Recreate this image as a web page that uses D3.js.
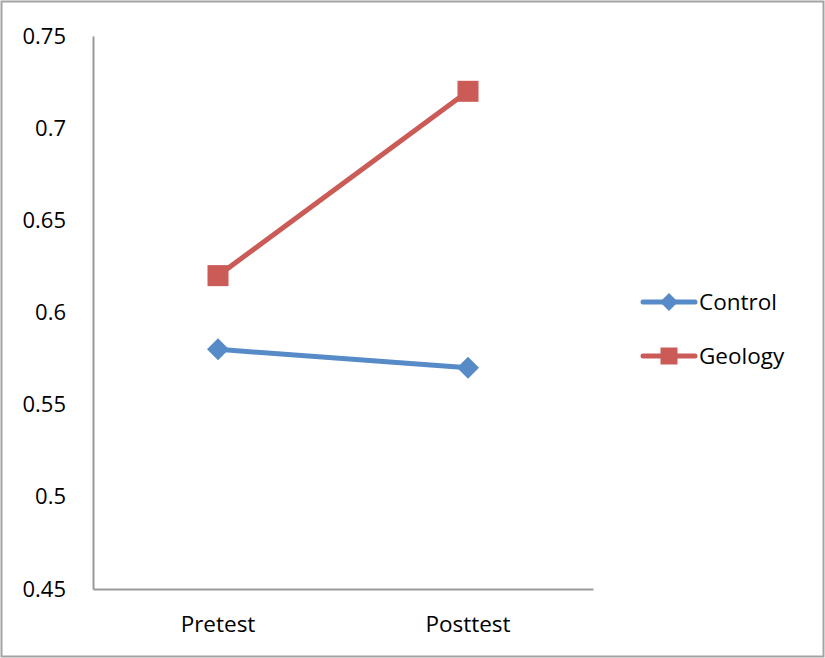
<!DOCTYPE html>
<html>
<head>
<meta charset="utf-8">
<script src="https://cdn.jsdelivr.net/npm/d3@7"></script>
<style>
  html, body { margin: 0; padding: 0; background: #fff; }
  svg { display: block; }
  text { font-family: "Open Sans", "Liberation Sans", sans-serif; fill: #000; }
</style>
</head>
<body>
<svg id="chart" width="825" height="658"></svg>
<script>
// Pretest / posttest mean scores for two groups
const categories = ["Pretest", "Posttest"];
const controlValues = [0.58, 0.57];
const geologyValues = [0.62, 0.72];
const yTicks = [0.45, 0.5, 0.55, 0.6, 0.65, 0.7, 0.75];
const seriesNames = ["Control", "Geology"];

const series = [
  { name: seriesNames[0], values: controlValues, color: "#568BC8", marker: "diamond" },
  { name: seriesNames[1], values: geologyValues, color: "#CA5B56", marker: "square" }
];

const svg = d3.select("#chart");

// outer frame
svg.append("rect")
  .attr("x", 1.5).attr("y", 1.5)
  .attr("width", 822).attr("height", 655)
  .attr("fill", "none").attr("stroke", "#a3a3a3").attr("stroke-width", 2);

const plot = { left: 93, right: 593, top: 36, bottom: 589 };

const x = d3.scaleBand().domain(categories).range([plot.left, plot.right]);
const y = d3.scaleLinear().domain([0.45, 0.75]).range([plot.bottom, plot.top]);

// y axis
const yAxis = svg.append("g")
  .attr("transform", `translate(${plot.left},0)`)
  .call(d3.axisLeft(y).tickValues(yTicks).tickSize(0).tickPadding(27)
    .tickFormat(d => String(+d.toFixed(2))));
yAxis.select(".domain").attr("stroke", "#999").attr("stroke-width", 2);
yAxis.selectAll("text").attr("font-size", 22).attr("font-family", "'Open Sans', sans-serif");

// x axis
const xAxis = svg.append("g")
  .attr("transform", `translate(0,${plot.bottom})`)
  .call(d3.axisBottom(x).tickSize(0).tickPadding(27));
xAxis.select(".domain").attr("stroke", "#999").attr("stroke-width", 2);
xAxis.selectAll("text").attr("font-size", 22.5).attr("font-family", "'Open Sans', sans-serif");

const cx = c => x(c) + x.bandwidth() / 2;

function drawMarker(g, type, px, py, color, size) {
  if (type === "square") {
    g.append("rect")
      .attr("x", px - size / 2).attr("y", py - size / 2)
      .attr("width", size).attr("height", size)
      .attr("fill", color);
  } else {
    const r = size / 2;
    g.append("path")
      .attr("d", `M${px},${py - r}L${px + r},${py}L${px},${py + r}L${px - r},${py}Z`)
      .attr("fill", color);
  }
}

const line = d3.line().x((d, i) => cx(categories[i])).y(d => y(d));

series.forEach(s => {
  const g = svg.append("g");
  g.append("path")
    .datum(s.values)
    .attr("d", line)
    .attr("fill", "none")
    .attr("stroke", s.color)
    .attr("stroke-width", 5)
    .attr("stroke-linecap", "round");
  s.values.forEach((v, i) => {
    drawMarker(g, s.marker, cx(categories[i]), y(v), s.color, s.marker === "square" ? 21 : 22);
  });
});

// legend
const legend = svg.append("g");
series.forEach((s, i) => {
  const ly = 302 + i * 54;
  legend.append("line")
    .attr("x1", 643).attr("x2", 695)
    .attr("y1", ly).attr("y2", ly)
    .attr("stroke", s.color).attr("stroke-width", 5)
    .attr("stroke-linecap", "round");
  drawMarker(legend, s.marker, 669, ly, s.color, s.marker === "square" ? 17 : 18);
  legend.append("text")
    .attr("x", 699).attr("y", ly)
    .attr("dy", "0.35em")
    .attr("font-size", 22.5)
    .text(s.name);
});
</script>
</body>
</html>
